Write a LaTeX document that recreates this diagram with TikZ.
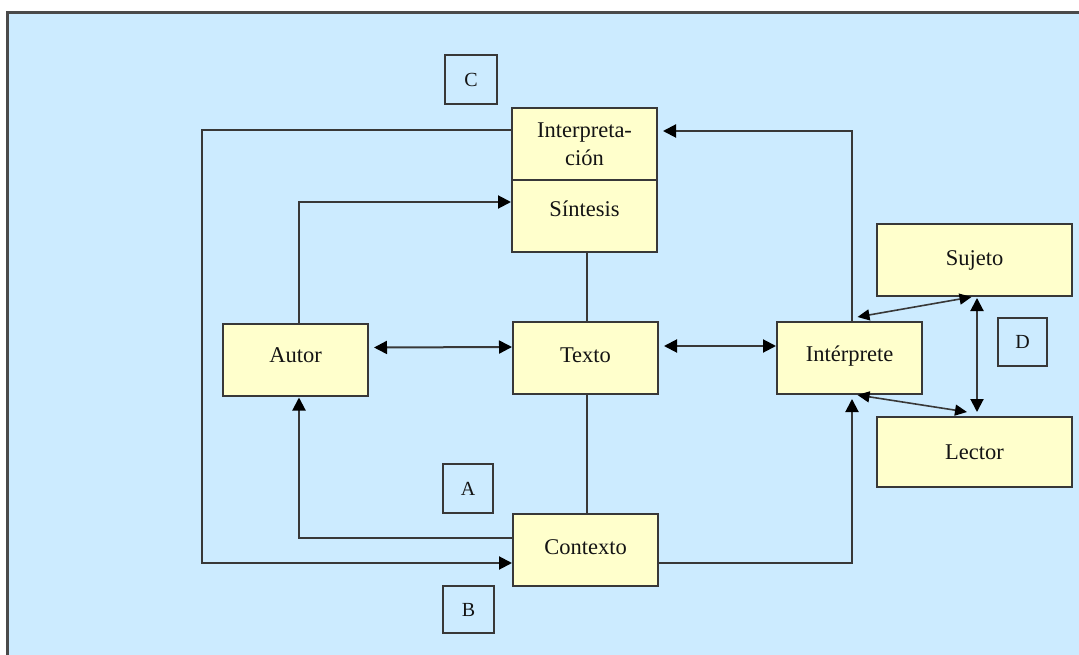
\documentclass[tikz,border=0pt]{standalone}
\usepackage{fontspec}
\setmainfont{Liberation Serif}
\usetikzlibrary{arrows.meta,calc}
\definecolor{bgblue}{HTML}{CCEBFF}
\definecolor{boxfill}{HTML}{FFFFCC}
\definecolor{edge}{HTML}{383838}
\definecolor{frame}{HTML}{4A4A4A}
\begin{document}
\begin{tikzpicture}[x=1pt,y=-1pt,
  box/.style={draw=edge, fill=boxfill, line width=2pt, minimum width=145pt,
    minimum height=72pt, inner sep=0pt, align=center,
    font=\fontsize{22.5}{28}\selectfont, text=black!92},
  wbox/.style={box, minimum width=195pt},
  tag/.style={draw=edge, line width=2pt, inner sep=0pt,
    font=\fontsize{20}{22}\selectfont, text=black!92},
  conn/.style={draw=edge, line width=2pt},
  thin/.style={draw=edge, line width=1.6pt},
  tip/.style={-{Triangle[length=13pt,width=13pt,color=black]}},
  dtip/.style={{Triangle[length=13pt,width=13pt,color=black]}-{Triangle[length=13pt,width=13pt,color=black]}},
  stip/.style={{Triangle[length=12pt,width=11pt,color=black]}-{Triangle[length=12pt,width=11pt,color=black]}}
]
\useasboundingbox (0,0) rectangle (1079,655);
\fill[white] (0,0) rectangle (1079,655);
\fill[bgblue] (6,11) rectangle (1079,655);
\draw[frame, line width=3pt] (7.5,655) -- (7.5,12.5) -- (1079,12.5);

% main boxes
\node[box] (interp) at (584.5,144) {Interpreta-\\ción};
\node[box] (sint) at (584.5,216) {\raisebox{7pt}[\height][\depth]{Síntesis}};
\node[box] (autor) at (295.5,359.5) {\raisebox{4pt}[\height][\depth]{Autor}};
\node[box] (texto) at (585.5,358) {\raisebox{3pt}[\height][\depth]{Texto}};
\node[box] (contexto) at (585.5,550) {\raisebox{3pt}[\height][\depth]{Contexto}};
\node[box] (interprete) at (849.5,358) {\raisebox{2pt}[\height][\depth]{Intérprete}};
\node[wbox] (sujeto) at (974.5,260) {Sujeto};
\node[wbox, minimum height=70pt] (lector) at (974.5,452) {Lector};

% tags
\node[tag, minimum width=52pt, minimum height=49pt] (tagC) at (471,79.5) {C};
\node[tag, minimum width=50pt, minimum height=49pt] (tagA) at (468,488.5) {A};
\node[tag, minimum width=51pt, minimum height=47pt] (tagB) at (468.5,609.5) {B};
\node[tag, minimum width=49pt, minimum height=48pt] (tagD) at (1022.5,342) {D};

% connectors
\draw[conn,tip] ($(interp.west)+(0,-14)$) -- ++(-309,0) |- ($(contexto.west)+(0,13)$);
\draw[conn,tip] ($(autor.north)+(3.5,0)$) |- ($(sint.west)+(0,-14)$);
\draw[conn,tip] ($(contexto.west)+(0,-12)$) -| ($(autor.south)+(3.5,1)$);
\draw[conn,dtip] ($(autor.east)+(5,-12)$) -- ($(texto.west)+(0,-11)$);
\draw[conn,dtip] ($(texto.east)+(5,-12)$) -- ($(interprete.west)+(0,-12)$);
\draw[conn] ($(sint.south)+(2.5,0)$) -- ($(texto.north)+(1.5,0)$);
\draw[conn] ($(texto.south)+(1.5,0)$) -- ($(contexto.north)+(1.5,0)$);
\draw[conn,tip] ($(contexto.east)+(0,13)$) -| ($(interprete.south)+(2.5,4)$);
\draw[conn,tip] ($(interprete.north)+(2.5,0)$) |- ($(interp.east)+(5,-13)$);
\draw[thin,stip] ($(interprete.north)+(8,-4)$) -- ($(sujeto.south)+(-3,0)$);
\draw[thin,stip] ($(interprete.south)+(8,0)$) -- ($(lector.north)+(-7.5,-4)$);
\draw[conn,dtip] ($(sujeto.south)+(2.5,1)$) -- ($(lector.north)+(2.5,-4)$);
\end{tikzpicture}
\end{document}
